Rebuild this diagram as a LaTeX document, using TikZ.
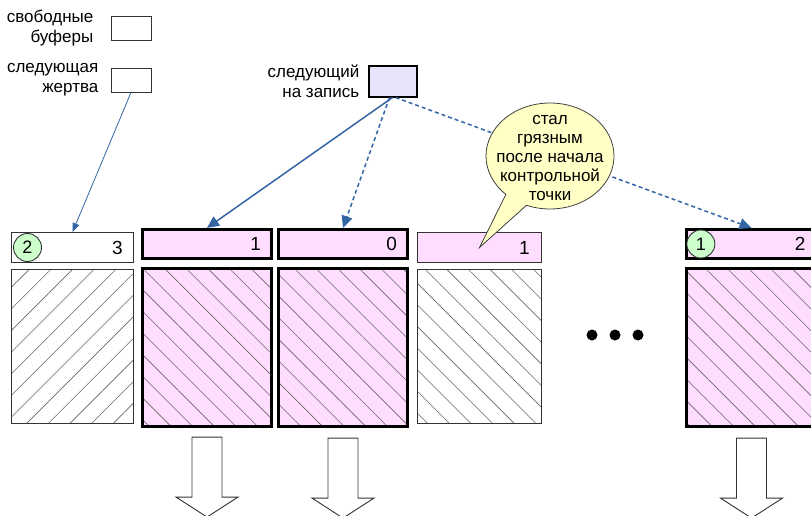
\documentclass[tikz,border=0pt]{standalone}
\usepackage{fontspec}
\setmainfont{Liberation Sans}
\usetikzlibrary{positioning,arrows.meta,patterns.meta,shapes.callouts}

\definecolor{bufpink}{HTML}{FFDDFF}
\definecolor{nextlilac}{HTML}{E8E2FA}
\definecolor{markgreen}{HTML}{CCFFCC}
\definecolor{noteyellow}{HTML}{FFFFC6}
\definecolor{ptrblue}{HTML}{3465A4}

\begin{document}
\begin{tikzpicture}
[x=1pt,y=-1pt,%
  every node/.style={inner sep=0pt},%
  lbl/.style={align=right,font=\fontsize{17}{20}\selectfont},%
  slot/.style={draw=black!80,line width=0.9pt,minimum width=40pt,minimum height=24pt},%
  hdrthin/.style={draw=black!80,line width=0.9pt,minimum height=30pt},%
  hdrthick/.style={draw=black,line width=2.7pt,fill=bufpink,minimum height=29.5pt},%
  bufthin/.style={draw=black!80,line width=0.9pt,minimum height=154pt},%
  bufthick/.style={draw=black,line width=2.7pt,minimum height=158.5pt,
    preaction={fill=bufpink}},%
  hatchup/.style={pattern={Lines[angle=45,distance=15.3pt,line width=0.6pt]},
    pattern color=black!60},%
  hatchdown/.style={pattern={Lines[angle=-45,distance=15.3pt,line width=0.6pt]},
    pattern color=black!60},%
  num/.style={font=\fontsize{19}{20}\selectfont},%
  usage/.style={circle,draw=black!80,line width=0.9pt,fill=markgreen,
    minimum size=28pt,font=\fontsize{18}{20}\selectfont},%
  ptr/.style={ptrblue,line width=1.5pt,-{Triangle[length=12pt,width=11pt]}},%
  ptrthin/.style={ptrblue,line width=0.8pt,-{Triangle[length=9pt,width=7pt]}},%
  dashedptr/.style={ptr,dash pattern=on 4pt off 3pt},%
  flush/.style={draw=black!80,line width=0.9pt,fill=white},%
  dot/.style={circle,fill=black,minimum size=11pt}]
\useasboundingbox (0,0) rectangle (811,515);

% legend
\node[slot] (free) at (131,28) {};
\node[lbl,left=17pt of free] (freelbl) {свободные\\буферы};
\node[slot] (victim) at (131,80) {};
\node[lbl,left=12pt of victim] (victimlbl) {следующая\\жертва};
\node[slot,draw=black,line width=2pt,fill=nextlilac,minimum width=48pt,
  minimum height=31pt] (next) at (392.5,81) {};
\node[lbl,left=8pt of next] (nextlbl) {следующий\\на запись};

% buffer headers
\node[hdrthin,minimum width=122pt] (hdr1) at (72.5,247.5) {};
\node[hdrthick,minimum width=129.5pt] (hdr2) at (207,244) {};
\node[hdrthick,minimum width=129.5pt] (hdr3) at (343,244) {};
\node[hdrthin,fill=bufpink,minimum width=124pt] (hdr4) at (479.5,247.5) {};
\node[hdrthick,minimum width=129.5pt] (hdr5) at (751.5,244) {};

\node[num,left=11pt of hdr1.east] (cnt1) {3};
\node[num,left=12pt of hdr2.east] (cnt2) {1};
\node[num,left=12pt of hdr3.east] (cnt3) {0};
\node[num,left=12pt of hdr4.east] (cnt4) {1};
\node[num,left=12pt of hdr5.east] (cnt5) {2};
\node[usage,right=2pt of hdr1.west] (usage1) {2};
\node[usage,right=1pt of hdr5.west] (usage5) {1};

% buffers
\node[bufthin,hatchup,minimum width=122pt] (buf1) at (72.5,346.5) {};
\node[bufthick,hatchdown,minimum width=129.5pt] (buf2) at (207,347.5) {};
\node[bufthick,hatchdown,minimum width=129.5pt] (buf3) at (343,347.5) {};
\node[bufthin,hatchdown,minimum width=124pt] (buf4) at (479.5,346.5) {};
\node[bufthick,hatchdown,minimum width=129.5pt] (buf5) at (751.5,347.5) {};

\foreach \i/\x in {1/592,2/615,3/638}
  \node[dot] (dot\i) at (\x,335) {};

% writes to disk
\foreach \b in {buf2,buf3,buf5}
  \draw[flush] ([yshift=-10pt]\b.south) ++(-15,0) -- ++(0,60) -- ++(-16,0)
    -- ++(31,20) -- ++(31,-20) -- ++(-16,0) -- ++(0,-60) -- cycle;

% pointers
\draw[ptrthin] (victim.south) -- (hdr1.north);
\draw[ptr] (next.south) -- (hdr2.north);
\draw[dashedptr] ([xshift=-3pt]next.south) -- (hdr3.north);
\draw[dashedptr] ([xshift=3pt]next.south) -- (hdr5.north);

% note
\node[ellipse callout,draw=black!75,line width=0.8pt,fill=noteyellow,
  minimum width=128pt,minimum height=106pt,callout pointer arc=22,
  callout absolute pointer=(hdr4.center)] (note) at (550,156) {};
\node[align=center,font=\fontsize{17}{19}\selectfont,yshift=-2pt]
  (notetext) at (note.center) {стал\\грязным\\после начала\\контрольной\\точки};
\end{tikzpicture}
\end{document}
